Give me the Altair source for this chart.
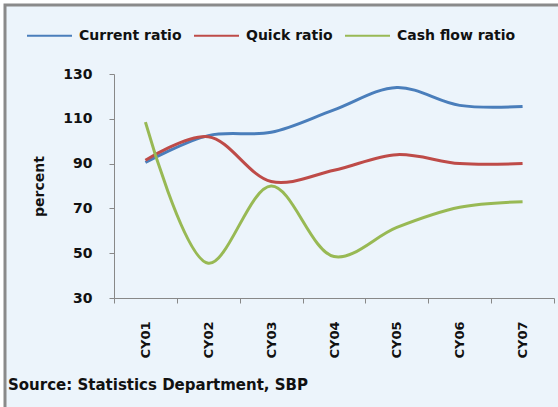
import altair as alt
import pandas as pd

years = ["CY01", "CY02", "CY03", "CY04", "CY05", "CY06", "CY07"]
current_ratio = [90.5, 102.5, 104, 114, 124, 116, 115.5]
quick_ratio = [91.5, 102, 82, 87, 94, 90, 90]
cash_flow_ratio = [108.5, 45.5, 80, 48.5, 61.5, 70.5, 73]
series_names = ["Current ratio", "Quick ratio", "Cash flow ratio"]
series_colors = ["#4A7EBB", "#BE4B48", "#98B954"]

rows = []
for name, vals in zip(series_names, [current_ratio, quick_ratio, cash_flow_ratio]):
    for y, v in zip(years, vals):
        rows.append({"year": y, "series": name, "value": v})
df = pd.DataFrame(rows)

FONT = "DejaVu Sans"

frame = alt.Chart(alt.Data(values=[{}])).mark_rect(
    fill="#ECF4FB", stroke="#8A8A8A", strokeWidth=3, clip=False
).encode(
    x=alt.value(-109), x2=alt.value(460), y=alt.value(-69), y2=alt.value(350)
)

lines = alt.Chart(df).mark_line(
    strokeWidth=3, interpolate="catmull-rom", clip=False
).encode(
    x=alt.X("year:N", sort=years, bandPosition=0.5,
            scale=alt.Scale(type="band", paddingInner=0, paddingOuter=0),
            axis=alt.Axis(title=None, labelAngle=270, labelAlign="right",
                          labelBaseline="middle", labelPadding=18,
                          labelFont=FONT, labelFontWeight="bold", labelFontSize=13,
                          labelColor="#111", tickBand="extent", tickSize=5,
                          tickColor="#888", domainColor="#888", grid=False,
                          zindex=1)),
    y=alt.Y("value:Q", scale=alt.Scale(domain=[30, 130], nice=False, zero=False),
            axis=alt.Axis(title="percent", values=[30, 50, 70, 90, 110, 130],
                          tickSize=5, tickColor="#888", domainColor="#888",
                          labelPadding=17, labelFont=FONT, labelFontWeight="bold",
                          labelFontSize=14, labelColor="#111", grid=False,
                          titleFont=FONT, titleFontWeight="bold", titleFontSize=14,
                          titleColor="#111", titlePadding=16, zindex=1)),
    color=alt.Color("series:N", sort=series_names,
                    scale=alt.Scale(domain=series_names, range=series_colors),
                    legend=alt.Legend(title=None, orient="none", legendX=-88, legendY=-62,
                                      direction="horizontal", symbolType="stroke",
                                      symbolSize=2025, symbolStrokeWidth=2,
                                      labelFont=FONT, labelFontWeight="bold",
                                      labelFontSize=14, labelColor="#111",
                                      labelOffset=6, columnPadding=8, zindex=1)),
)

source = alt.Chart(alt.Data(values=[{}])).mark_text(
    align="left", baseline="middle", font=FONT, fontWeight="bold", fontSize=15,
    color="#111", clip=False
).encode(
    x=alt.value(-106), y=alt.value(311),
    text=alt.value("Source: Statistics Department, SBP")
)

chart = alt.layer(frame, lines, source).properties(
    width=440, height=224,
    autosize=alt.AutoSizeParams(type="none"),
    padding={"left": 114, "top": 74, "right": 4, "bottom": 109},
    background="white",
).configure_view(stroke=None)

chart.save("out.html", embed_options={"renderer": "svg", "actions": False})
